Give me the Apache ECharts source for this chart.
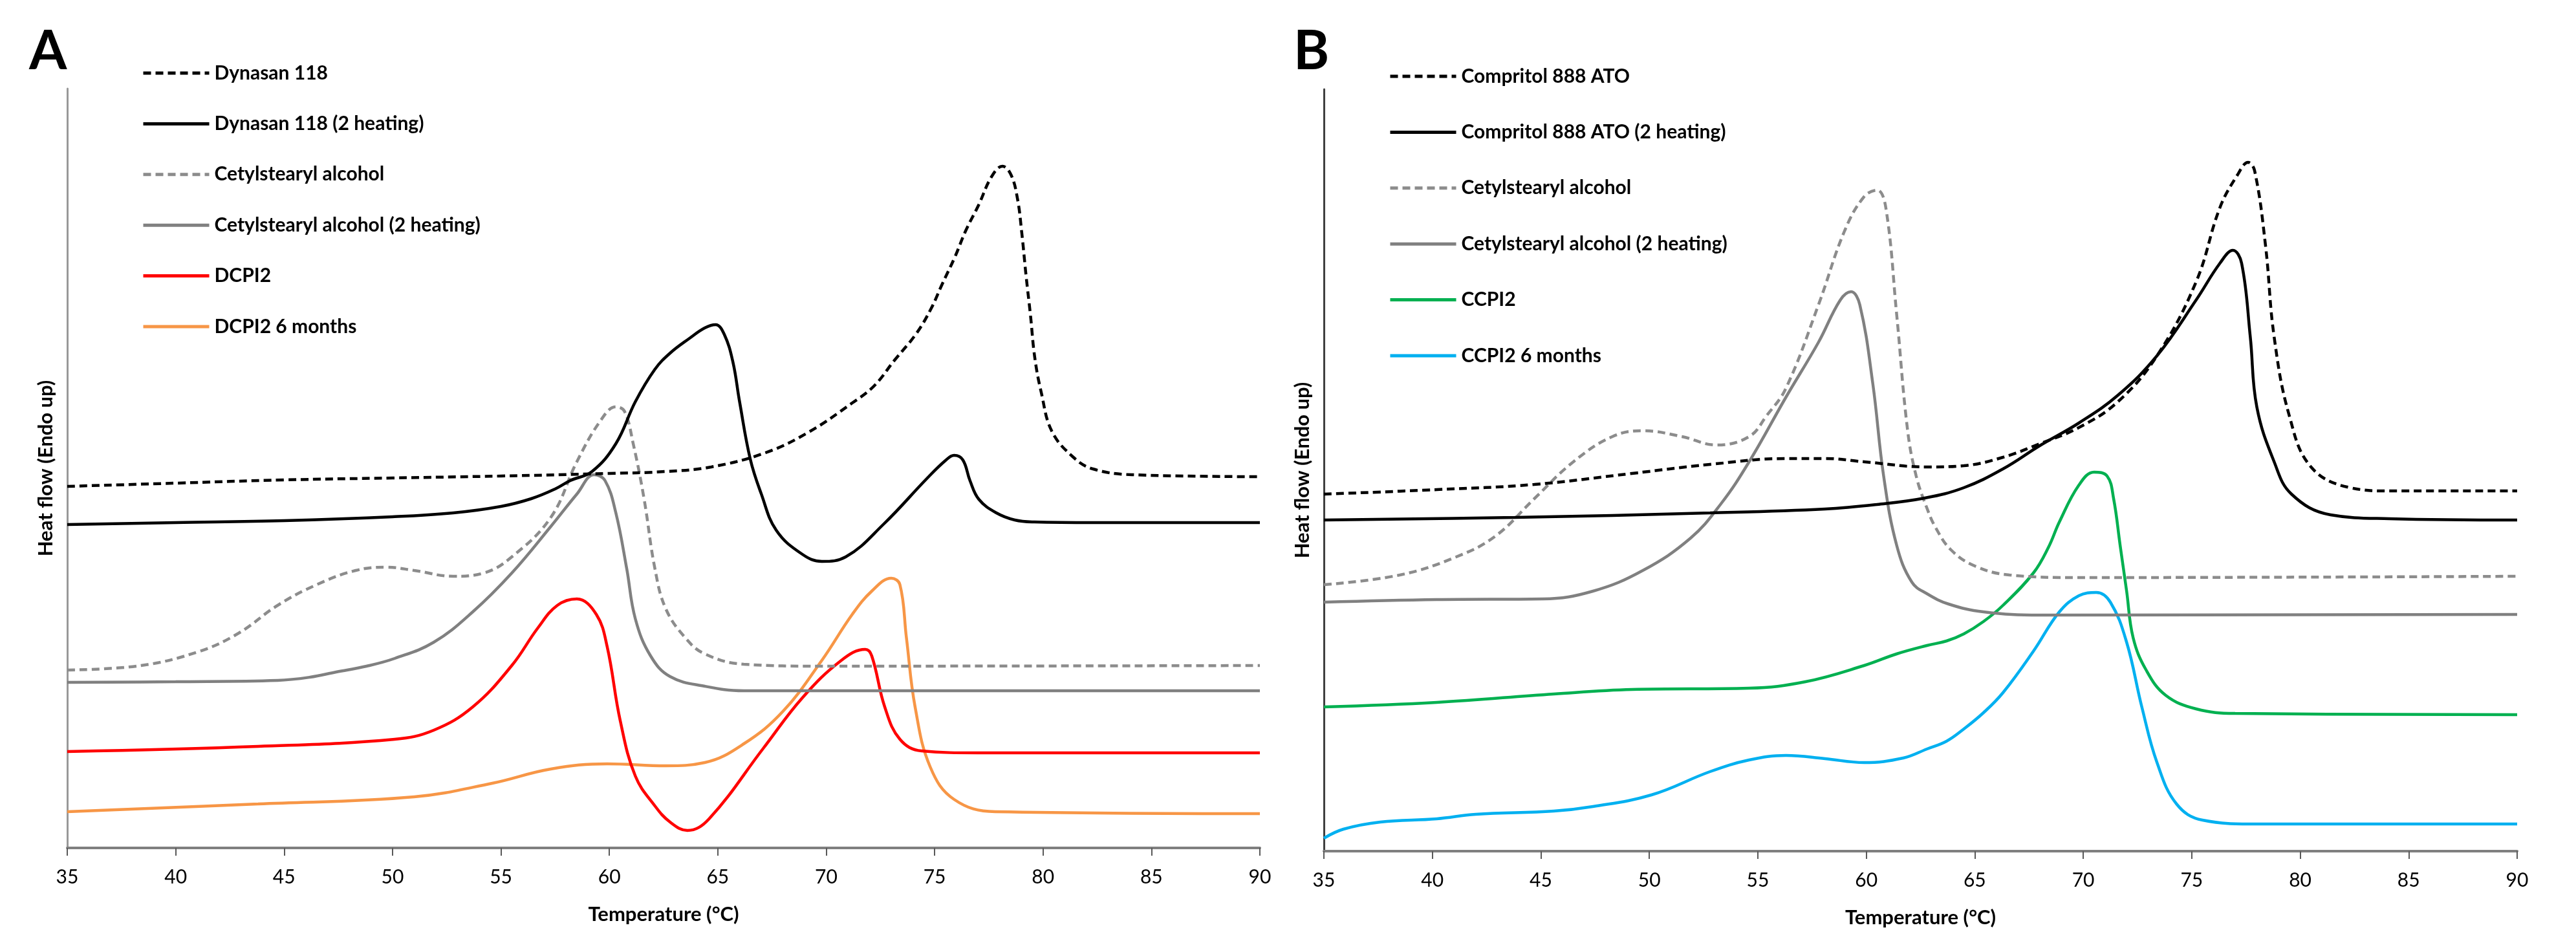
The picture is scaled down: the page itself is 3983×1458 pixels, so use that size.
<!DOCTYPE html>
<html>
<head>
<meta charset="utf-8">
<script src="https://cdn.jsdelivr.net/npm/echarts@6/dist/echarts.min.js"></script>
<style>
html,body{margin:0;padding:0;background:#fff;}
#chart{width:3983px;height:1458px;}
</style>
</head>
<body>
<div id="chart"></div>
<script>
// ---- Data (temperature °C, heat flow in arbitrary units) ----
const xTicksMin = 35, xTicksMax = 90, xTickStep = 5;

// Panel A
const dynasan118 = [[35,55.9],[40,56.4],[45,56.9],[50,57.2],[55,57.5],[60,57.9],[62.6,58.2],[64.7,58.9],[67.2,61.1],[69.2,64.3],[71.2,68.8],[72.2,71.4],[73.15,75.4],[74.15,79.5],[74.84,83.4],[75.34,87.1],[75.94,91.4],[76.43,95.4],[77.03,99.4],[77.63,103.8],[78.13,105.4],[78.52,104.1],[78.82,100.4],[79.02,95.1],[79.22,88.4],[79.42,82.4],[79.62,75.8],[79.92,70.4],[80.41,64.4],[81.4,60.4],[82.3,58.6],[84.1,57.7],[90,57.4]];
const dynasan118h2 = [[35,50.0],[40,50.3],[45,50.6],[50,51.2],[52.8,51.8],[55,52.8],[56.4,54.0],[57.5,55.5],[58.2,56.8],[59.2,58.2],[60.3,62.5],[61.2,69.0],[62.1,74.0],[62.8,76.5],[63.7,78.8],[64.4,80.4],[64.9,80.9],[65.3,79.4],[65.7,75.1],[66.0,69.1],[66.5,60.1],[67.0,54.8],[67.7,49.1],[68.9,45.4],[69.8,44.3],[70.9,45.0],[72.66,50.1],[74.64,57.1],[75.5,59.9],[75.9,60.7],[76.3,60.0],[76.63,56.8],[77.04,53.9],[77.85,51.8],[78.7,50.7],[79.6,50.4],[82.3,50.3],[90,50.3]];
const cetylA = [[35,27.5],[38.4,28.2],[41.1,30.4],[42.9,33.2],[44.7,37.5],[46.5,40.7],[48.3,42.9],[49.7,43.4],[51,42.9],[52.8,42.0],[54.2,42.5],[55.5,45.0],[57.3,51.1],[58.5,59.7],[59.6,66.1],[60.3,68.2],[60.7,67.5],[61.1,62.5],[61.6,54.0],[62.1,43.2],[62.6,37.0],[63.5,32.5],[64.4,30.0],[66.2,28.4],[69.8,28.1],[90,28.2]];
const cetylAh2 = [[35,25.6],[40,25.7],[44.7,25.9],[46.2,26.4],[47.4,27.2],[48.8,28.1],[50.1,29.3],[51.9,31.8],[53.7,36.5],[55.5,42.5],[57.3,49.7],[58.5,54.7],[59.3,57.7],[59.8,56.8],[60.3,51.8],[60.8,43.2],[61.2,35.4],[61.9,29.7],[62.8,26.5],[64.4,25.0],[66.2,24.3],[90,24.3]];
const dcpi2 = [[35,14.9],[43.8,15.7],[50.1,16.8],[51.9,18.2],[53.7,21.8],[55.5,28.2],[56.7,34.0],[57.6,37.5],[58.5,38.5],[59.4,36.1],[59.9,31.1],[60.5,19.7],[61.2,11.1],[62.1,6.5],[62.8,4.0],[63.6,2.7],[64.6,4.5],[67.1,15.4],[68.9,23.2],[70.7,29.0],[71.8,30.7],[72.1,29.7],[72.7,21.8],[73.4,16.8],[74.4,15.0],[77,14.7],[90,14.7]];
const dcpi2m6 = [[35,5.6],[43.8,6.8],[51,7.9],[54.6,10.0],[57.3,12.2],[59.9,13.0],[62.6,12.7],[64.4,13.2],[66.2,16.1],[68,21.1],[69.8,29.0],[71.2,36.1],[72.1,39.7],[73,41.7],[73.4,40.7],[73.7,32.5],[74.1,21.8],[74.8,12.5],[75.9,7.5],[77.8,5.6],[90,5.3]];

// Panel B
const compritol = [[35,55.2],[40.2,55.9],[44.7,56.7],[49.2,58.4],[52.8,59.8],[56.3,60.7],[58.1,60.7],[59.9,60.2],[62.8,59.4],[64.5,59.6],[66.3,60.9],[68,63.0],[69.8,65.5],[71.6,69.5],[73.4,76.6],[75.2,88.0],[76.3,99.5],[77.1,104.5],[77.6,106.5],[77.9,105.2],[78.4,93.7],[78.8,79.5],[79.5,67.3],[80.5,59.4],[82.3,56.2],[84.1,55.7],[90,55.7]];
const compritolh2 = [[35,51.2],[43.8,51.6],[52.8,52.3],[58.1,52.9],[60.5,53.6],[62.7,54.6],[64.5,56.2],[66.3,59.1],[68,62.7],[69.8,66.2],[71.6,70.5],[73.4,76.6],[75.2,85.2],[76.3,90.9],[76.9,92.9],[77.3,90.9],[77.7,79.5],[78,68.7],[78.8,60.2],[79.6,55.2],[81.4,52.0],[84.1,51.4],[90,51.2]];
const cetylB = [[35,41.2],[38.5,42.7],[41.1,45.5],[42.9,48.7],[44.7,54.5],[46.5,60.2],[48.3,64.1],[49.7,65.0],[51.5,64.1],[53.1,62.8],[54.6,64.1],[55.4,67.3],[56.3,71.6],[57.8,84.5],[59,95.9],[59.9,101.2],[60.5,102.2],[60.9,99.5],[61.4,83.0],[61.9,65.2],[62.3,58.0],[62.8,53.0],[63.2,50.0],[63.9,46.6],[65,44.1],[66.6,42.7],[69.8,42.3],[90,42.5]];
const cetylBh2 = [[35,38.5],[40.2,38.9],[45.1,39.0],[47.4,40.2],[49.7,43.4],[51.9,48.4],[53.3,53.7],[54.6,60.2],[56.3,70.2],[57.8,78.7],[58.8,85.2],[59.3,86.5],[59.7,84.5],[60.3,72.3],[60.8,58.0],[61.4,47.3],[62.1,41.6],[62.8,39.8],[63.8,38.2],[65.4,37.0],[68,36.5],[90,36.6]];
const ccpi2 = [[35,22.3],[40.2,23.0],[45.6,24.3],[49.2,25.0],[54.6,25.2],[57.2,26.2],[59.9,28.7],[61.4,30.5],[62.8,31.8],[63.7,32.5],[64.5,33.6],[65.4,35.5],[66.3,38.0],[67.7,43.0],[68.4,47.0],[68.9,50.9],[69.8,56.6],[70.5,58.6],[71.1,58.0],[71.4,54.5],[71.7,47.3],[72,40.2],[72.3,33.0],[72.9,28.0],[73.8,24.1],[75.2,22.0],[77,21.3],[90,21.1]];
const ccpi2m6 = [[35,2.0],[35.9,3.4],[37.6,4.5],[40.2,5.0],[42,5.7],[45.6,6.2],[47.4,6.9],[50.1,8.7],[52.8,12.3],[54.6,14.1],[56.3,14.8],[58.1,14.3],[59.9,13.7],[61.7,14.4],[62.8,15.8],[63.7,17.0],[64.5,18.9],[65.4,21.4],[66.3,24.5],[67.7,30.9],[68.9,37.0],[69.8,39.5],[70.6,40.0],[71.25,38.5],[72,32.3],[72.7,22.3],[73.4,13.7],[74.3,7.3],[75.5,4.8],[77.9,4.2],[90,4.2]];

const namesA = ['Dynasan 118','Dynasan 118 (2 heating)','Cetylstearyl alcohol','Cetylstearyl alcohol (2 heating)','DCPI2','DCPI2 6 months'];
const namesB = ['Compritol 888 ATO','Compritol 888 ATO (2 heating)','Cetylstearyl alcohol ','Cetylstearyl alcohol (2 heating) ','CCPI2','CCPI2 6 months'];
const dataA = [dynasan118, dynasan118h2, cetylA, cetylAh2, dcpi2, dcpi2m6];
const dataB = [compritol, compritolh2, cetylB, cetylBh2, ccpi2, ccpi2m6];
const colors = ['#000000','#000000','#8c8c8c','#808080'];
const colorsA = colors.concat(['#ff0000','#f79646']);
const colorsB = colors.concat(['#00b050','#00b0f0']);
const dashed = [true,false,true,false,false,false];

const FONT = 'Lato, "Open Sans", sans-serif';

function xAxisCfg(gi){
  return {
    gridIndex: gi, type:'value', min:xTicksMin, max:xTicksMax, interval:xTickStep,
    axisLine:{show:true, onZero:false, lineStyle:{color:'#7f7f7f', width:4}},
    axisTick:{show:true, length:12, lineStyle:{color:'#595959', width:2}},
    axisLabel:{fontSize:30, color:'#000', margin:30, fontFamily:FONT},
    splitLine:{show:false},
    name:'Temperature (°C)', nameLocation:'middle', nameGap:87,
    nameTextStyle:{fontSize:31, fontWeight:'bold', color:'#000', fontFamily:FONT}
  };
}
function yAxisCfg(gi, max, col){
  return {
    gridIndex: gi, type:'value', min:0, max:max,
    axisLine:{show:true, lineStyle:{color:col, width:3}},
    axisTick:{show:false}, axisLabel:{show:false}, splitLine:{show:false},
    name:'Heat flow (Endo up)', nameLocation:'middle', nameGap:18, nameRotate:90,
    nameTextStyle:{fontSize:31, fontWeight:'bold', color:'#000', fontFamily:FONT}
  };
}
function mkSeries(names, datas, cols, gi){
  return names.map((n,i)=>({
    name:n, type:'line', xAxisIndex:gi, yAxisIndex:gi, data:datas[i],
    showSymbol:false, symbol:'none', smooth:0.4,
    lineStyle:{color:cols[i], width:4.5, type: dashed[i] ? [12,7] : 'solid'},
    itemStyle:{color:cols[i]}, z: 10-i
  }));
}
function legendCfg(names, left, top, w, gap){
  return {
    data:names, orient:'vertical', left:left, top:top, itemWidth:w, itemHeight:30, itemGap:gap,
    selectedMode:false,
    itemStyle:{opacity:0},
    lineStyle:{width:5},
    textStyle:{fontSize:30, fontWeight:'bold', color:'#000', fontFamily:FONT, lineHeight:30, padding:[0,0,0,3]},
    formatter: n => n.trim()
  };
}

const chart = echarts.init(document.getElementById('chart'), null, {renderer:'canvas'});
chart.setOption({
  backgroundColor:'#fff',
  animation:false,
  grid:[
    {left:104, right:2035, top:137, bottom:147},
    {left:2047, right:91, top:138, bottom:142}
  ],
  xAxis:[xAxisCfg(0), xAxisCfg(1)],
  yAxis:[yAxisCfg(0,117.4,'#999999'), yAxisCfg(1,117.8,'#404040')],
  legend:[legendCfg(namesA,214,93,102,48.4), legendCfg(namesB,2142,98,102,56.4)],
  graphic:[
    {type:'text', left:45, top:38, style:{text:'A', fontSize:84, fontWeight:'bold', fill:'#000', fontFamily:FONT}},
    {type:'text', left:2000, top:38, style:{text:'B', fontSize:84, fontWeight:'bold', fill:'#000', fontFamily:FONT}}
  ],
  series: mkSeries(namesA, dataA, colorsA, 0).concat(mkSeries(namesB, dataB, colorsB, 1))
});
</script>
</body>
</html>
